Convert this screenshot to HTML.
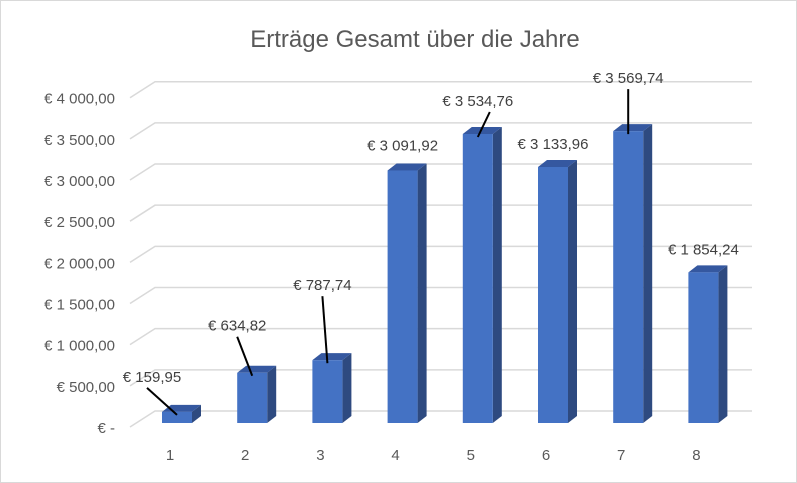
<!DOCTYPE html>
<html><head><meta charset="utf-8"><style>
body{margin:0;background:#fff}
svg{display:block;font-family:"Liberation Sans",sans-serif}
</style></head><body>
<svg id="c" width="797" height="483">
<rect x="0.5" y="0.5" width="796" height="482" fill="#fff" stroke="#d9d9d9"/>
<text x="415" y="47" text-anchor="middle" font-size="24" fill="#595959">Erträge Gesamt über die Jahre</text>
<g id="grid"></g><g id="bars"></g><g id="labels"></g>
</svg>
<script>
const categories=["1","2","3","4","5","6","7","8"];
const values=[159.95,634.82,787.74,3091.92,3534.76,3133.96,3569.74,1854.24];
const valueLabels=["€  159,95","€  634,82","€  787,74","€ 3 091,92","€ 3 534,76","€ 3 133,96","€ 3 569,74","€ 1 854,24"];
const ticks=[0,500,1000,1500,2000,2500,3000,3500,4000];
const tickLabels=["€ -","€ 500,00","€ 1 000,00","€ 1 500,00","€ 2 000,00","€ 2 500,00","€ 3 000,00","€ 3 500,00","€ 4 000,00"];
const labelOffsets=[[-25,-30],[-15,-42],[-5,-70],[0,-20],[0,-28],[0,-18],[0,-48],[0,-18]];
const NS="http://www.w3.org/2000/svg";
const y0=425,k=(425-134)/3534.76;
const yS=v=>y0-v*k;
const xS=i=>162+i*75.2;
const g=document.getElementById('grid'),b=document.getElementById('bars'),L=document.getElementById('labels');
function mk(t,a,p){const e=document.createElementNS(NS,t);for(const q in a)e.setAttribute(q,a[q]);p.appendChild(e);return e;}
ticks.forEach((v,i)=>{
 const y=yS(v);
 const p=mk('path',{d:`M130 ${y+2} L155 ${y-14} L752 ${y-14}`,fill:'none',stroke:'#d9d9d9','stroke-width':1.5},g);
 
 
 const t=mk('text',{x:115,y:y+8,'text-anchor':'end','font-size':15,fill:'#595959'},g);
 t.textContent=tickLabels[i];
 
 
});
categories.forEach((c,i)=>{
 const x=xS(i),w=30,dx=9,dy=7,top=yS(values[i]),bot=y0-2;
 const grp=mk('g',{},b);
 
 
 mk('polygon',{points:`${x+w},${top} ${x+w+dx},${top-dy} ${x+w+dx},${bot-dy} ${x+w},${bot}`,fill:'#2e4a80'},grp);
 mk('polygon',{points:`${x},${top} ${x+dx},${top-dy} ${x+w+dx},${top-dy} ${x+w},${top}`,fill:'#3558a0'},grp);
 mk('rect',{x:x,y:top,width:w,height:bot-top,fill:'#4472c4'},grp);
 const t=mk('text',{x:x+8,y:460,'text-anchor':'middle','font-size':15,fill:'#595959'},L);
 t.textContent=c;
 
 
 const o=labelOffsets[i];
 const lx=x+w/2+o[0],ly=top+o[1];
 if(o[1]<-25){
  const ln=mk('line',{x1:x+w/2,y1:top+3,x2:lx+(o[0]<0?-3:3)*0+ (i==0?-5:i==4?12:i==6?0:0),y2:ly+6,stroke:'#000','stroke-width':2},L);
  
  
 }
 const dl=mk('text',{x:lx,y:ly,'text-anchor':'middle','font-size':15,fill:'#404040'},L);
 dl.textContent=valueLabels[i];
 
 
});
</script>
</body></html>
